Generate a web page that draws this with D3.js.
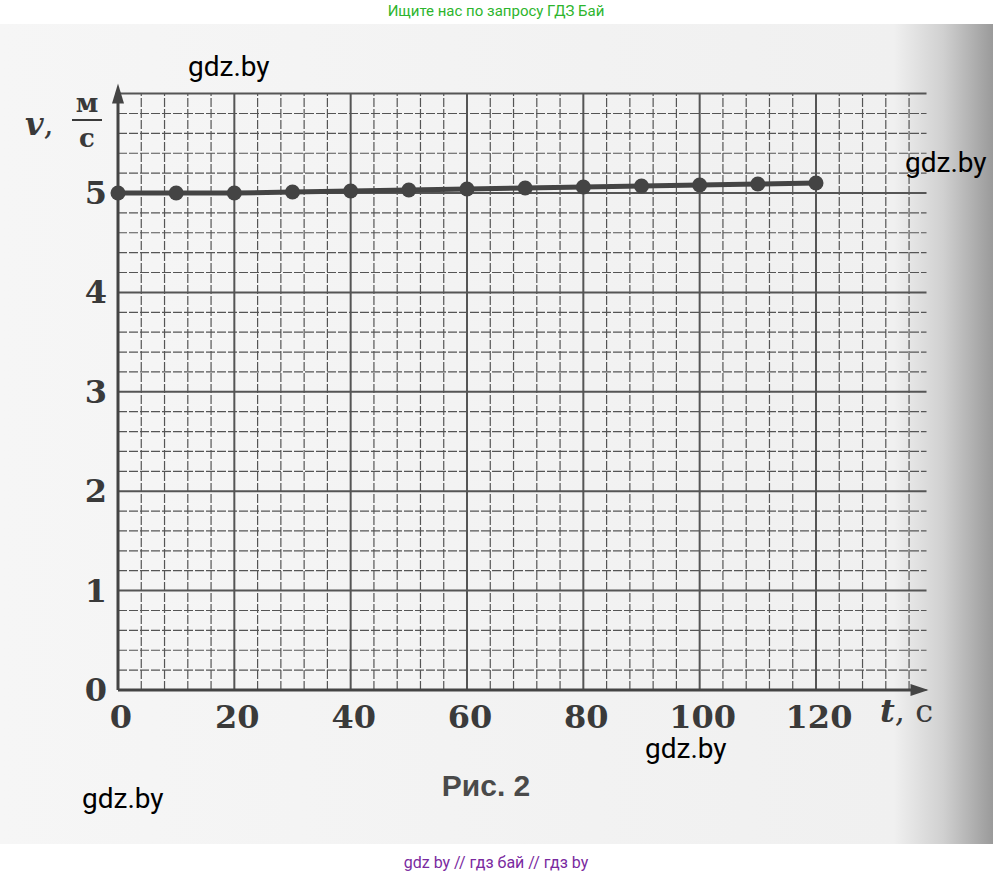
<!DOCTYPE html>
<html><head><meta charset="utf-8">
<script src="https://cdn.jsdelivr.net/npm/d3@7"></script>
<style>body{margin:0;background:#fff}</style>
</head><body><svg id="c" width="993" height="876"></svg>
<script>
var times = [0, 10, 20, 30, 40, 50, 60, 70, 80, 90, 100, 110, 120];
var speeds = [5.0, 5.0, 5.0, 5.01, 5.02, 5.03, 5.04, 5.05, 5.06, 5.07, 5.08, 5.09, 5.1];
var xTicks = [0, 20, 40, 60, 80, 100, 120];
var yTicks = [0, 1, 2, 3, 4, 5];

var svg = d3.select('#c');
var defs = svg.append('defs');
var g = defs.append('linearGradient').attr('id', 'shade').attr('x1', 0).attr('x2', 1);
g.append('stop').attr('offset', '0').attr('stop-color', '#f6f6f6');
g.append('stop').attr('offset', '0.9').attr('stop-color', '#f0f0f0');
g.append('stop').attr('offset', '0.95').attr('stop-color', '#d0d0d0');
g.append('stop').attr('offset', '1').attr('stop-color', '#9a9a9a');
svg.append('rect').attr('x', 0).attr('y', 24).attr('width', 993).attr('height', 820).attr('fill', 'url(#shade)');

var x = d3.scaleLinear().domain([0, 120]).range([118, 816]);
var y = d3.scaleLinear().domain([0, 5]).range([690, 193]);
var xMax = 139, yMax = 6;

// grid
var grid = svg.append('g').attr('stroke', '#555');
d3.range(0, xMax + 0.1, 4).forEach(function (t) {
    grid.append('line').attr('x1', x(t)).attr('x2', x(t)).attr('y1', y(0)).attr('y2', y(yMax))
        .attr('stroke-width', t % 20 === 0 ? 2 : 1.2).attr('stroke-dasharray', t % 20 === 0 ? null : '9,2');
});
d3.range(0, yMax + 0.01, 0.2).forEach(function (v) {
    var major = Math.abs(v - Math.round(v)) < 0.01;
    grid.append('line').attr('x1', x(0)).attr('x2', x(xMax)).attr('y1', y(v)).attr('y2', y(v))
        .attr('stroke-width', major ? 2 : 1.2).attr('stroke-dasharray', major ? null : '9,2');
});

// axes
var ax = svg.append('g').attr('stroke', '#444').attr('stroke-width', 3).attr('fill', '#444');
ax.append('line').attr('x1', x(0)).attr('x2', x(xMax) - 6).attr('y1', y(0)).attr('y2', y(0));
ax.append('path').attr('d', 'M' + (x(xMax) + 2) + ',' + y(0) + 'l-18,-6l0,12z').attr('stroke', 'none');
ax.append('line').attr('x1', x(0)).attr('x2', x(0)).attr('y1', y(0)).attr('y2', y(yMax) + 6);
ax.append('path').attr('d', 'M' + x(0) + ',' + (y(yMax) - 10) + 'l-6,20l12,0z').attr('stroke', 'none');

var font = '"DejaVu Serif", "Liberation Serif", serif';
svg.selectAll('.xt').data(xTicks).enter().append('text')
    .attr('x', function (d) { return x(d) + 3; }).attr('y', 728).attr('text-anchor', 'middle')
    .attr('font-family', font).attr('font-weight', 'bold').attr('font-size', 32).attr('fill', '#3a3a3a')
    .text(function (d) { return d; });
svg.selectAll('.yt').data(yTicks).enter().append('text')
    .attr('x', 96).attr('y', function (d) { return y(d) + 11; }).attr('text-anchor', 'middle')
    .attr('font-family', font).attr('font-weight', 'bold').attr('font-size', 32).attr('fill', '#3a3a3a')
    .text(function (d) { return d; });

svg.append('text').attr('x', 880).attr('y', 722).attr('font-family', font).attr('font-size', 32).attr('fill', '#3a3a3a')
    .html('<tspan font-style="italic" font-weight="bold">t</tspan>, с');
svg.append('text').attr('x', 25).attr('y', 135).attr('font-family', font).attr('font-size', 32).attr('fill', '#3a3a3a')
    .html('<tspan font-style="italic" font-weight="bold">v</tspan>,');
svg.append('text').attr('x', 87).attr('y', 112).attr('text-anchor', 'middle').attr('font-family', font)
    .attr('font-weight', 'bold').attr('font-size', 26).attr('fill', '#3a3a3a').text('м');
svg.append('line').attr('x1', 72).attr('x2', 102).attr('y1', 120).attr('y2', 120).attr('stroke', '#3a3a3a').attr('stroke-width', 2);
svg.append('text').attr('x', 87).attr('y', 147).attr('text-anchor', 'middle').attr('font-family', font)
    .attr('font-weight', 'bold').attr('font-size', 26).attr('fill', '#3a3a3a').text('с');

// data
var pts = times.map(function (t, i) { return [t, speeds[i]]; });
svg.append('path').datum(pts).attr('fill', 'none').attr('stroke', '#444').attr('stroke-width', 5)
    .attr('d', d3.line().x(function (d) { return x(d[0]); }).y(function (d) { return y(d[1]); }));
svg.selectAll('.pt').data(pts).enter().append('circle')
    .attr('cx', function (d) { return x(d[0]); }).attr('cy', function (d) { return y(d[1]); })
    .attr('r', 7.5).attr('fill', '#444');

svg.append('text').attr('x', 486).attr('y', 796).attr('text-anchor', 'middle').attr('font-family', 'Liberation Sans, Arial, sans-serif')
    .attr('font-weight', 'bold').attr('font-size', 30).attr('fill', '#4a4a4a').text('Рис. 2');

// watermarks
var wm = [[188, 76], [905, 172], [645, 758], [82, 808]];
svg.selectAll('.wm').data(wm).enter().append('text')
    .attr('x', function (d) { return d[0]; }).attr('y', function (d) { return d[1]; })
    .attr('font-family', 'Roboto, sans-serif').attr('font-size', 28).attr('fill', '#000').text('gdz.by');
svg.append('text').attr('x', 496).attr('y', 16).attr('text-anchor', 'middle').attr('font-family', 'Roboto, sans-serif')
    .attr('font-size', 15).attr('fill', '#2db52d').text('Ищите нас по запросу ГДЗ Бай');
svg.append('text').attr('x', 496).attr('y', 868).attr('text-anchor', 'middle').attr('font-family', 'Roboto, sans-serif')
    .attr('font-size', 16).attr('fill', '#7a2aa0').text('gdz by  //  гдз бай  //  гдз by');
</script></body></html>
